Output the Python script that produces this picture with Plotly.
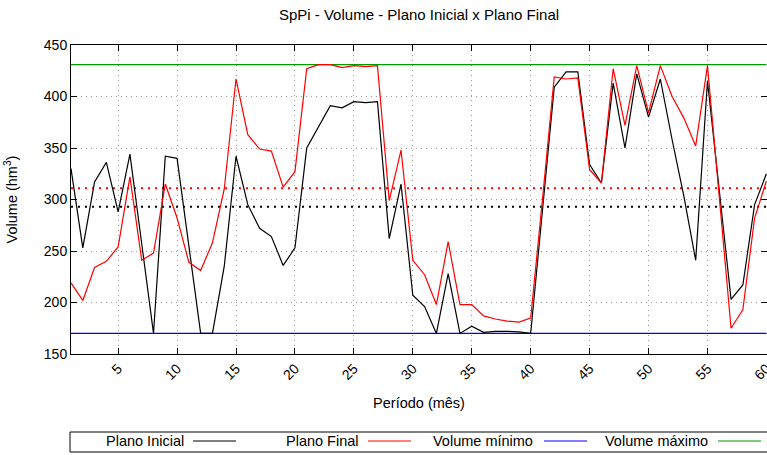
import plotly.graph_objects as go

# Data
periodo = list(range(1, 61))
plano_inicial = [330, 253, 317, 336, 288, 344, 257, 170, 342, 340,
                 255, 170, 170, 235, 342, 295, 272, 264, 236, 253,
                 350, 371, 391, 389, 395, 394, 395, 262, 315, 207,
                 196, 170, 228, 170, 177, 171, 172, 172, 171.5, 170,
                 290, 409, 424, 424, 334, 316, 413, 350, 422, 380,
                 417, 358, 303, 241, 415, 308, 203, 217, 295, 325]
plano_final = [219, 202, 234, 240, 254, 322, 241, 248, 315, 282,
               239, 231, 258, 310, 417, 363, 349, 347, 312, 327,
               427, 431, 431, 428, 430, 429, 430, 299, 348, 241,
               227, 198, 259, 198, 198, 187, 184, 182, 181, 185,
               300, 419, 417, 418, 329, 316, 427, 372, 430, 384,
               430, 400, 379, 352, 430, 305, 175, 193, 282, 318]
volume_minimo = 170
volume_maximo = 431
media_inicial = 293
media_final = 311

legend_names = ['Plano Inicial', 'Plano Final', 'Volume mínimo', 'Volume máximo']
legend_colors = ['#000000', '#ff0000', '#0000ff', '#009900']

FONT = 'Liberation Sans, Arial, sans-serif'
W, H = 767, 455
L, T = 71, 45
B = H - 354


def px_x(p):
    # pixel -> paper x
    return (p - L) / (W - L)


def px_y(p):
    # pixel -> paper y
    return (354 - p) / (354 - T)


fig = go.Figure()
xs = [periodo[0], periodo[-1]]

# mean lines (dotted)
fig.add_trace(go.Scatter(x=xs, y=[media_final] * 2, mode='lines',
                         line=dict(color='#ff0000', width=2, dash='2px,5px'),
                         showlegend=False, hoverinfo='skip'))
fig.add_trace(go.Scatter(x=xs, y=[media_inicial] * 2, mode='lines',
                         line=dict(color='#000000', width=2, dash='2px,5px'),
                         showlegend=False, hoverinfo='skip'))
# limits
fig.add_trace(go.Scatter(x=xs, y=[volume_minimo] * 2, mode='lines',
                         line=dict(color='#0000ff', width=1.2),
                         name='Volume mínimo', showlegend=False))
fig.add_trace(go.Scatter(x=xs, y=[volume_maximo] * 2, mode='lines',
                         line=dict(color='#009900', width=1.2),
                         name='Volume máximo', showlegend=False))
# series
fig.add_trace(go.Scatter(x=periodo, y=plano_inicial, mode='lines',
                         line=dict(color='#000000', width=1.2),
                         name='Plano Inicial', showlegend=False))
fig.add_trace(go.Scatter(x=periodo, y=plano_final, mode='lines',
                         line=dict(color='#ff0000', width=1.2),
                         name='Plano Final', showlegend=False))

fig.update_xaxes(range=[1, 60.05], tickvals=list(range(5, 61, 5)), tickangle=-45,
                 ticks='inside', ticklen=6, tickcolor='#000000',
                 ticklabeloverflow='allow',
                 showline=True, linecolor='#000000', linewidth=1, mirror='ticks',
                 showgrid=True, gridcolor='#999999', griddash='1px,4px', gridwidth=1,
                 zeroline=False, automargin=False,
                 tickfont=dict(family=FONT, size=14, color='#000000'),
                 title=dict(text='Período (mês)', standoff=15,
                            font=dict(family=FONT, size=14.5, color='#000000')))
fig.update_yaxes(range=[150, 450], tickvals=list(range(150, 451, 50)),
                 ticks='inside', ticklen=6, tickcolor='#000000',
                 showline=True, linecolor='#000000', linewidth=1, mirror='ticks',
                 showgrid=True, gridcolor='#999999', griddash='1px,4px', gridwidth=1,
                 zeroline=False, automargin=False,
                 tickfont=dict(family=FONT, size=14, color='#000000'),
                 title=dict(text='Volume (hm<sup>3</sup>)', standoff=22,
                            font=dict(family=FONT, size=14.5, color='#000000')))

# legend box drawn gnuplot-style (label then line sample)
shapes = [dict(type='rect', xref='paper', yref='paper',
               x0=px_x(70), x1=px_x(780), y0=px_y(452), y1=px_y(432),
               line=dict(color='#000000', width=1), fillcolor='rgba(0,0,0,0)')]
annotations = []
text_right = [186, 361, 535, 710]
line_start = [193, 368, 544, 718]
for name, color, tr, ls in zip(legend_names, legend_colors, text_right, line_start):
    annotations.append(dict(text=name, xref='paper', yref='paper',
                            x=px_x(tr), y=px_y(441), xanchor='right', yanchor='middle',
                            showarrow=False,
                            font=dict(family=FONT, size=14.5, color='#000000')))
    shapes.append(dict(type='line', xref='paper', yref='paper',
                       x0=px_x(ls), x1=px_x(ls + 43), y0=px_y(441), y1=px_y(441),
                       line=dict(color=color, width=1.2)))

fig.update_layout(
    width=W, height=H,
    margin=dict(l=L, r=0, t=T, b=B),
    paper_bgcolor='#ffffff', plot_bgcolor='#ffffff',
    title=dict(text='SpPi - Volume - Plano Inicial x Plano Final',
               x=0.5, xref='paper', y=1 - 15 / H, yref='container',
               xanchor='center', yanchor='middle',
               font=dict(family=FONT, size=15, color='#000000')),
    shapes=shapes, annotations=annotations,
    showlegend=False)

# drop the default page margin so the figure sits at the window's corner
fig.write_html('out.html', config={'displayModeBar': False},
               post_script="document.body.style.margin='0';")
